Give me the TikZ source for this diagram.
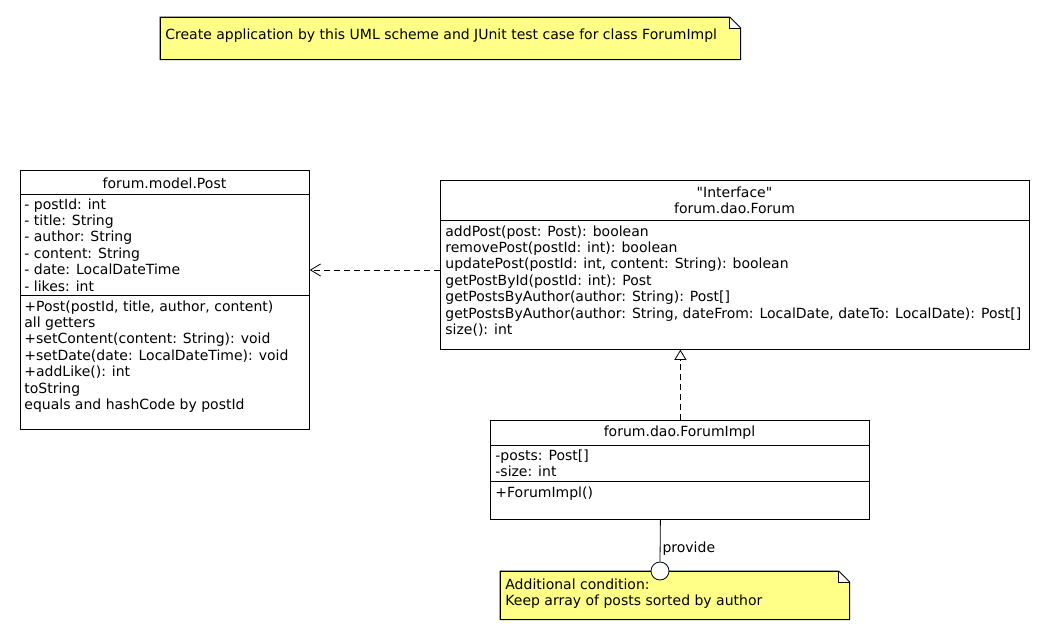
\documentclass[tikz,border=0pt]{standalone}
\usepackage{fontspec}
\setmainfont{DejaVu Sans}[Ligatures=TeXOff]
\usetikzlibrary{arrows.meta, calc, positioning}
\definecolor{noteyellow}{HTML}{FFFF88}
\newcommand{\umlfont}{\fontsize{14}{16.4}\selectfont}

\begin{document}
\begin{tikzpicture}[
    x=1pt, y=-1pt,
    line width=0.8pt,
    umlbox/.style={draw, fill=white, anchor=north west, inner sep=0pt},
    framebox/.style={anchor=north west, inner sep=0pt},
    txt/.style={anchor=north west, inner sep=0pt, align=left, font=\umlfont},
    head/.style={inner sep=0pt, align=center, font=\umlfont},
    notefill/.style={fill=noteyellow},
    dep/.style={dashed, dash pattern=on 6pt off 4pt, -{Straight Barb[length=10pt, width=12pt]}},
    real/.style={dashed, dash pattern=on 6pt off 4pt, -{Triangle[open, length=10pt, width=12pt]}},
    lolli/.style={circle, draw, fill=white, minimum size=18pt, inner sep=0pt}
  ]
    \fill[white] (0,0) rectangle (1050,640);
    \useasboundingbox (0,0) rectangle (1050,640);

    % top note
    \node[framebox, minimum width=580pt, minimum height=42pt] (task) at (160,17) {};
    \filldraw[notefill] (task.north west) -- ([xshift=-11pt]task.north east)
      -- ([xshift=-11pt, yshift=-11pt]task.north east) -- ([yshift=-11pt]task.north east)
      -- (task.south east) -- (task.south west) -- cycle;
    \draw (task.north west) -- ([xshift=-11pt]task.north east)
      -- ([yshift=-11pt]task.north east) -- (task.south east) -- (task.south west) -- cycle;
    \node[txt] (tasktxt) at (165,28)
      {Create application by this UML scheme and JUnit test case for class ForumImpl};

    % class Post
    \node[umlbox, minimum width=289pt, minimum height=259pt] (post) at (20,170) {};
    \node[head] (posthead) at (164.5,183) {forum.model.Post};
    \draw (20,194) -- (309,194);
    \node[txt] (postattr) at (24,198)
      {- postId: int\\- title: String\\- author: String\\- content: String\\
       - date: LocalDateTime\\- likes: int};
    \draw (20,295) -- (309,295);
    \node[txt] (postops) at (24,300)
      {+Post(postId, title, author, content)\\all getters\\
       +setContent(content: String): void\\+setDate(date: LocalDateTime): void\\
       +addLike(): int\\toString\\equals and hashCode by postId};

    % interface Forum
    \node[umlbox, minimum width=589pt, minimum height=169pt] (forum) at (440,180) {};
    \node[head] (forumhead) at (734.5,200.5) {"Interface"\\forum.dao.Forum};
    \draw (440,220) -- (1029,220);
    \node[txt] (forumops) at (445,225)
      {addPost(post: Post): boolean\\removePost(postId: int): boolean\\
       updatePost(postId: int, content: String): boolean\\getPostById(postId: int): Post\\
       getPostsByAuthor(author: String): Post[]\\
       getPostsByAuthor(author: String, dateFrom: LocalDate, dateTo: LocalDate): Post[]\\
       size(): int};

    % class ForumImpl
    \node[umlbox, minimum width=379pt, minimum height=99pt] (impl) at (490,420) {};
    \node[head] (implhead) at (679.5,433) {forum.dao.ForumImpl};
    \draw (490,445) -- (869,445);
    \node[txt] (implattr) at (495,449) {-posts: Post[]\\-size: int};
    \draw (490,481) -- (869,481);
    \node[txt] (implops) at (495,486) {+ForumImpl()};

    % bottom note
    \node[framebox, minimum width=349pt, minimum height=48pt] (cond) at (500,571) {};
    \filldraw[notefill] (cond.north west) -- ([xshift=-11pt]cond.north east)
      -- ([xshift=-11pt, yshift=-11pt]cond.north east) -- ([yshift=-11pt]cond.north east)
      -- (cond.south east) -- (cond.south west) -- cycle;
    \draw (cond.north west) -- ([xshift=-11pt]cond.north east)
      -- ([yshift=-11pt]cond.north east) -- (cond.south east) -- (cond.south west) -- cycle;
    \node[txt] (condtxt) at (505,578)
      {Additional condition:\\Keep array of posts sorted by author};

    % connectors
    \coordinate (depline) at (0,270);
    \draw[dep] (forum.west |- depline) -- (post.east |- depline);
    \draw[real] ([xshift=0.5pt]impl.north) -- ([xshift=0.5pt]impl.north |- forum.south);
    \node[lolli] (prov) at (660,571) {};
    \draw ([xshift=-19.5pt]impl.south) -- node[head, right=2pt, pos=0.7] {provide} (prov.north);
  \end{tikzpicture}
\end{document}
